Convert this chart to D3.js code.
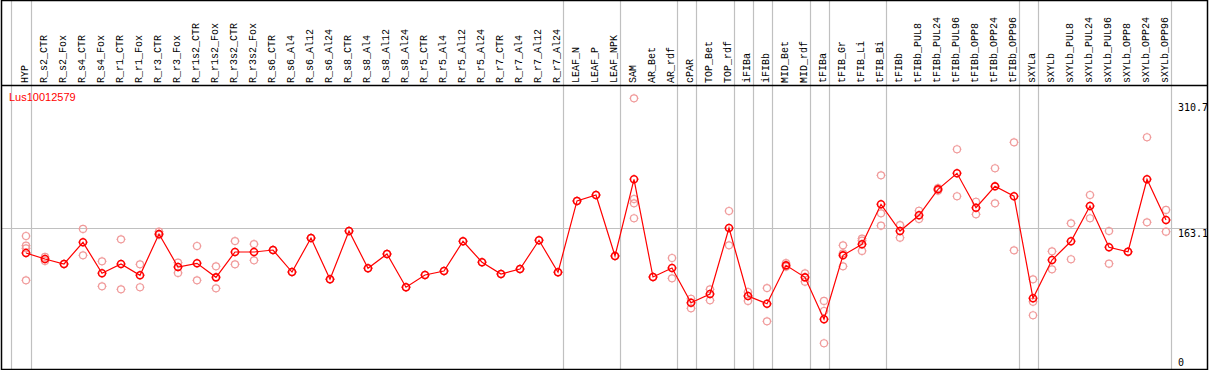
<!DOCTYPE html>
<html>
<head>
<meta charset="utf-8">
<script src="https://cdn.jsdelivr.net/npm/d3@7"></script>
<style>
  body { margin: 0; background: #fff; }
  svg { display: block; }
</style>
</head>
<body>
<div id="chart"></div>
<script>
// sample names along the top
let categories = ["HYP", "R_s2_CTR", "R_s2_Fox", "R_s4_CTR", "R_s4_Fox", "R_r1_CTR", "R_r1_Fox",
  "R_r3_CTR", "R_r3_Fox", "R_r1s2_CTR", "R_r1s2_Fox", "R_r3s2_CTR", "R_r3s2_Fox",
  "R_s6_CTR", "R_s6_Al4", "R_s6_Al12", "R_s6_Al24", "R_s8_CTR", "R_s8_Al4", "R_s8_Al12", "R_s8_Al24",
  "R_r5_CTR", "R_r5_Al4", "R_r5_Al12", "R_r5_Al24", "R_r7_CTR", "R_r7_Al4", "R_r7_Al12", "R_r7_Al24",
  "LEAF_N", "LEAF_P", "LEAF_NPK", "SAM", "AR_Bet", "AR_rdf", "cPAR", "TOP_Bet", "TOP_rdf",
  "iFIBa", "iFIBb", "MID_Bet", "MID_rdf", "tFIBa", "tFIB_Gr", "tFIB_Li", "tFIB_Bi", "tFIBb",
  "tFIBb_PUL8", "tFIBb_PUL24", "tFIBb_PUL96", "tFIBb_OPP8", "tFIBb_OPP24", "tFIBb_OPP96",
  "sXYLa", "sXYLb", "sXYLb_PUL8", "sXYLb_PUL24", "sXYLb_PUL96", "sXYLb_OPP8", "sXYLb_OPP24", "sXYLb_OPP96"]

// mean expression per sample
let means = [134.3, 127.3, 121.5, 146.8, 110.6, 121.5, 108.3, 156.5, 118.0, 122.3, 105.9, 135.5, 135.5,
  137.8, 112.1, 151.8, 103.6, 160.0, 116.5, 133.2, 94.3,
  108.6, 113.3, 148.0, 123.5, 109.8, 115.6, 149.2, 111.8,
  195.1, 202.1, 130.8, 220.4, 106.3, 116.8, 76.3, 86.4, 163.5,
  84.1, 75.1, 119.9, 105.9, 56.9, 131.6, 144.5, 191.2, 160.0,
  178.4, 208.7, 227.4, 187.2, 212.2, 200.6,
  81.4, 126.1, 148.0, 189.2, 141.0, 135.8, 220.4, 172.9]

// individual replicates per sample
let reps = [
  [154.2, 142.9, 139.8, 102.4], [129.7, 125.0], [121.5], [162.4, 131.6], [124.6, 95.4],
  [150.3, 91.9], [121.1, 94.3], [159.2, 155.4], [123.0, 111.0], [142.5, 102.4],
  [118.8, 93.1], [148.3, 121.1], [144.8, 125.8],
  [137.8], [112.1], [151.8], [103.6], [160.0], [116.5], [133.2], [94.3],
  [108.6], [113.3], [148.0], [123.5], [109.8], [115.6], [149.2], [111.8],
  [195.1], [202.1], [130.8], [315.0, 197.4, 192.4, 174.9], [106.3], [128.5, 104.8],
  [80.9, 69.7], [91.9, 79.1], [183.4, 143.3],
  [88.8, 78.3], [93.4, 54.5], [118.3, 122.6], [110.6, 100.8], [78.3, 66.6, 28.9],
  [143.3, 134.0, 118.8], [151.0, 148.7, 136.7], [225.1, 180.7, 166.2], [167.0, 152.2],
  [183.7, 174.0], [210.2, 207.1], [255.5, 200.6], [194.2, 179.5], [233.3, 192.4], [263.6, 137.5],
  [103.6, 77.4, 61.6], [136.3, 115.3], [169.0, 127.0], [202.1, 174.9], [160.0, 121.8],
  [135.8], [269.5, 170.2], [184.6, 159.2]]

let yTicks = [0, 163.1, 310.7]
let gridValue = 163.1
// index of the last sample in each group (separator drawn after it)
let groupEnds = [0, 28, 31, 34, 35, 37, 38, 39, 41, 42, 45, 52, 53, 60]
let geneName = "Lus10012579"

let width = 1209,
    height = 370,
    headerBottom = 85.5,
    plotBottom = 369

let svg = d3.select("#chart")
  .append("svg")
    .attr("width", width)
    .attr("height", height)

let x = d3.scalePoint()
  .domain(categories)
  .range([26, 1166])

let y = d3.scaleLinear()
  .domain([0, 310.7])
  .range([368, 102])

// group separators
let sepX = [x(categories[0]) - 15].concat(groupEnds.map(function(i) { return x(categories[i]) + 4.5 }))
svg.selectAll("line.sep")
  .data(sepX)
  .enter()
  .append("line")
    .attr("class", "sep")
    .attr("x1", function(d) { return Math.round(d) + 0.5 })
    .attr("x2", function(d) { return Math.round(d) + 0.5 })
    .attr("y1", 0)
    .attr("y2", plotBottom)
    .attr("stroke", "#c0c0c0")
    .attr("stroke-width", 1.2)

// horizontal reference line
svg.append("line")
  .attr("x1", 1)
  .attr("x2", 1207)
  .attr("y1", Math.round(y(gridValue)) + 0.5)
  .attr("y2", Math.round(y(gridValue)) + 0.5)
  .attr("stroke", "#c0c0c0")
  .attr("stroke-width", 1.2)

// header separator and frame
svg.append("line")
  .attr("x1", 1)
  .attr("x2", 1207)
  .attr("y1", headerBottom)
  .attr("y2", headerBottom)
  .attr("stroke", "#000")
  .attr("stroke-width", 1.5)

svg.append("rect")
  .attr("x", 1.5)
  .attr("y", 0.5)
  .attr("width", 1206)
  .attr("height", plotBottom)
  .attr("fill", "none")
  .attr("stroke", "#000")
  .attr("stroke-width", 1.5)

// rotated sample labels
svg.selectAll("text.cat")
  .data(categories)
  .enter()
  .append("text")
    .attr("class", "cat")
    .attr("transform", function(d) { return "translate(" + (x(d) + 2) + "," + 83 + ") rotate(-90)" })
    .attr("text-anchor", "start")
    .style("font-family", "Liberation Mono, DejaVu Sans Mono, monospace")
    .style("font-size", "10px")
    .attr("fill", "#000")
    .text(function(d) { return d })

// y labels on the right
svg.selectAll("text.ytick")
  .data(yTicks)
  .enter()
  .append("text")
    .attr("class", "ytick")
    .attr("x", 1178)
    .attr("y", function(d) { return Math.min(y(d) + 8.5, 366) })
    .style("font-family", "DejaVu Sans Mono, monospace")
    .style("font-size", "10px")
    .attr("fill", "#000")
    .text(function(d) { return d })

svg.append("text")
  .attr("x", 9)
  .attr("y", 101)
  .style("font-family", "Liberation Sans, Arial, sans-serif")
  .style("font-size", "11px")
  .attr("fill", "red")
  .text(geneName)

// circle marker with tiny ticks
function marker(r) {
  return "M" + (-r) + ",0A" + r + "," + r + " 0 1,0 " + r + ",0A" + r + "," + r + " 0 1,0 " + (-r) + ",0" +
    "M0," + (-r) + "v-1M0," + r + "v1M" + (-r) + ",0h-1M" + r + ",0h1"
}

// replicate points
let repPoints = []
reps.forEach(function(arr, i) {
  arr.forEach(function(v) { repPoints.push({ key: categories[i], value: v }) })
})

svg.selectAll("path.rep")
  .data(repPoints)
  .enter()
  .append("path")
    .attr("class", "rep")
    .attr("transform", function(d) { return "translate(" + x(d.key) + "," + y(d.value) + ")" })
    .attr("d", marker(3.5))
    .attr("fill", "none")
    .attr("stroke", "#f09a9a")
    .attr("stroke-width", 1.2)

// mean line
let meanData = categories.map(function(c, i) { return { key: c, value: means[i] } })

svg.append("path")
  .datum(meanData)
  .attr("d", d3.line()
    .x(function(d) { return x(d.key) })
    .y(function(d) { return y(d.value) }))
  .attr("fill", "none")
  .attr("stroke", "red")
  .attr("stroke-width", 1.2)

svg.selectAll("path.mean")
  .data(meanData)
  .enter()
  .append("path")
    .attr("class", "mean")
    .attr("transform", function(d) { return "translate(" + x(d.key) + "," + y(d.value) + ")" })
    .attr("d", marker(3.5))
    .attr("fill", "none")
    .attr("stroke", "red")
    .attr("stroke-width", 1.6)
</script>
</body>
</html>
